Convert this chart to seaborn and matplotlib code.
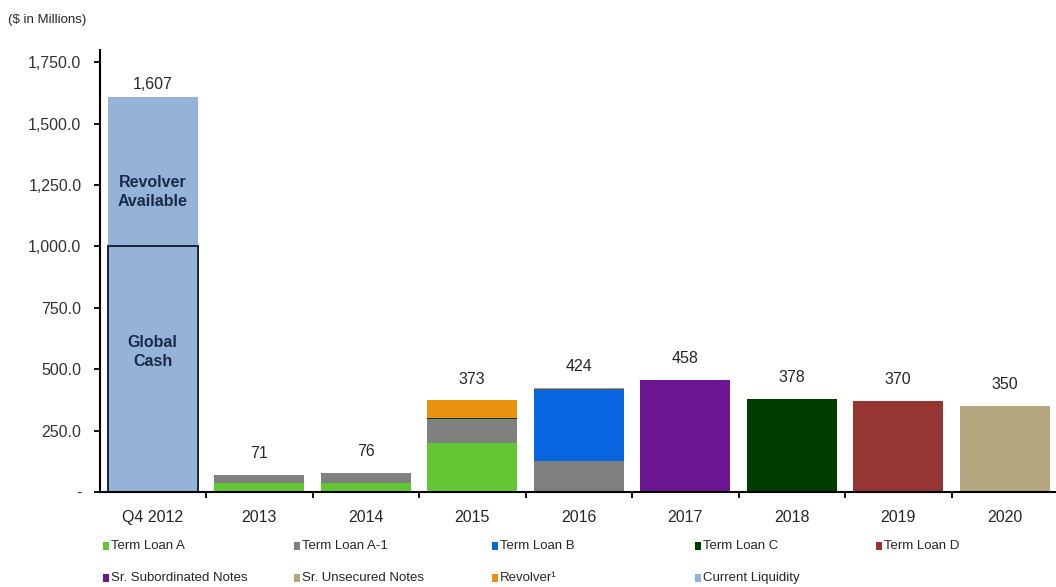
import matplotlib
matplotlib.use("Agg")
import matplotlib.pyplot as plt
from matplotlib.patches import Rectangle
from matplotlib.ticker import FuncFormatter, FixedLocator
import numpy as np
import pandas as pd
import seaborn as sns

# Debt maturity profile vs. current liquidity ($ in millions)
categories = ["Q4 2012", "2013", "2014", "2015", "2016", "2017", "2018", "2019", "2020"]

global_cash         = [1000, 0, 0, 0, 0, 0, 0, 0, 0]
revolver_available  = [607, 0, 0, 0, 0, 0, 0, 0, 0]
term_loan_a         = [0, 37, 37, 200, 0, 0, 0, 0, 0]
term_loan_a1        = [0, 34, 39, 97, 125, 0, 0, 0, 0]
term_loan_b         = [0, 0, 0, 0, 295, 0, 0, 0, 0]
term_loan_c         = [0, 0, 0, 3, 0, 0, 378, 0, 0]
term_loan_d         = [0, 0, 0, 0, 0, 0, 0, 370, 0]
sr_subordinated     = [0, 0, 0, 0, 0, 458, 0, 0, 0]
sr_unsecured        = [0, 0, 0, 0, 0, 0, 0, 0, 350]
revolver            = [0, 0, 0, 73, 4, 0, 0, 0, 0]

total_labels = ["1,607", "71", "76", "373", "424", "458", "378", "370", "350"]

colors = {
    "Term Loan A": "#62C732",
    "Term Loan A-1": "#808080",
    "Term Loan B": "#0866E0",
    "Term Loan C": "#003B00",
    "Term Loan D": "#953633",
    "Sr. Subordinated Notes": "#6C1590",
    "Sr. Unsecured Notes": "#B4A67E",
    "Revolver": "#E8920F",
    "Current Liquidity": "#95B3D7",
}

# stacking order, bottom to top
layers = [
    ("Global Cash", global_cash, colors["Current Liquidity"]),
    ("Revolver Available", revolver_available, colors["Current Liquidity"]),
    ("Term Loan A", term_loan_a, colors["Term Loan A"]),
    ("Term Loan A-1", term_loan_a1, colors["Term Loan A-1"]),
    ("Term Loan B", term_loan_b, colors["Term Loan B"]),
    ("Term Loan C", term_loan_c, colors["Term Loan C"]),
    ("Term Loan D", term_loan_d, colors["Term Loan D"]),
    ("Sr. Subordinated Notes", sr_subordinated, colors["Sr. Subordinated Notes"]),
    ("Sr. Unsecured Notes", sr_unsecured, colors["Sr. Unsecured Notes"]),
    ("Revolver", revolver, colors["Revolver"]),
]

sns.set_theme(style="white")
plt.rcParams["font.family"] = ["Liberation Sans", "DejaVu Sans"]
plt.rcParams["text.color"] = "#262626"

fig = plt.figure(figsize=(10.56, 5.87), dpi=100)
ax = fig.add_axes([99.5 / 1056, 95 / 587, 958.5 / 1056, 442 / 587])

stack = np.cumsum(np.array([vals for _, vals, _ in layers], dtype=float), axis=0)
bar_width = 0.845

# draw cumulative heights from the top layer down so each lower layer covers the one above
for i in range(len(layers) - 1, -1, -1):
    name, _, col = layers[i]
    df = pd.DataFrame({"category": categories, "value": stack[i]})
    if name == "Global Cash":
        sns.barplot(data=df, x="category", y="value", order=categories, color=col,
                    saturation=1, width=bar_width, edgecolor="#1B2440", linewidth=1.4,
                    ax=ax)
    else:
        sns.barplot(data=df, x="category", y="value", order=categories, color=col,
                    saturation=1, width=bar_width, linewidth=0, ax=ax)

# hide zero-height bars so their outlines don't show on the baseline
for p in ax.patches:
    if p.get_height() == 0:
        p.set_visible(False)

ax.set_xlim(-0.5, len(categories) - 0.5)
ax.set_ylim(0, 1800)
ax.set_xlabel("")
ax.set_ylabel("")

# totals above each bar
totals = stack[-1]
for i, (t, lab) in enumerate(zip(totals, total_labels)):
    off = 4 if i == 0 else 10
    ax.annotate(lab, xy=(i, t), xytext=(0, off), textcoords="offset points",
                ha="center", va="bottom", fontsize=11.5, color="#262626")

# labels inside the liquidity bar
ax.text(0, 1222, "Revolver\nAvailable", ha="center", va="center", fontsize=11.5,
        fontweight="bold", color="#1B2A48", linespacing=1.3)
ax.text(0, 570, "Global\nCash", ha="center", va="center", fontsize=11.5,
        fontweight="bold", color="#1B2A48", linespacing=1.3)

# axes styling
for side in ["top", "right"]:
    ax.spines[side].set_visible(False)
for side in ["left", "bottom"]:
    ax.spines[side].set_color("black")
    ax.spines[side].set_linewidth(1.5)

ax.yaxis.set_major_locator(FixedLocator(np.arange(0, 1751, 250)))
ax.yaxis.set_major_formatter(FuncFormatter(lambda v, _: "-" if v == 0 else f"{v:,.1f}"))
ax.tick_params(axis="y", which="major", direction="out", length=4, width=1.3,
               color="black", left=True, labelsize=11.5, labelcolor="#333333", pad=9)
ax.tick_params(axis="x", which="major", length=0, labelsize=11.5, labelcolor="#262626", pad=13)
ax.xaxis.set_minor_locator(FixedLocator(np.arange(0.5, len(categories) - 1, 1.0)))
ax.tick_params(axis="x", which="minor", direction="out", length=4, width=1.3,
               color="black", bottom=True)

fig.text(8 / 1056, 1 - 20 / 587, "($ in Millions)", ha="left", va="center",
         fontsize=9.5, color="#262626")

# legend: two rows of colour swatches with labels
legend_rows = [
    [("Term Loan A", 103), ("Term Loan A-1", 294), ("Term Loan B", 492),
     ("Term Loan C", 695), ("Term Loan D", 876)],
    [("Sr. Subordinated Notes", 103), ("Sr. Unsecured Notes", 294),
     ("Revolver", 492), ("Current Liquidity", 695)],
]
legend_text = {"Revolver": "Revolver\u00b9"}
for row_y, row in zip([546, 578], legend_rows):
    for name, x0 in row:
        fig.add_artist(Rectangle((x0 / 1056, 1 - (row_y + 4) / 587), 6 / 1056, 8 / 587,
                                 transform=fig.transFigure, facecolor=colors[name],
                                 edgecolor="none"))
        fig.text((x0 + 8) / 1056, 1 - row_y / 587, legend_text.get(name, name),
                 ha="left", va="center", fontsize=9.5, color="#262626")

fig.savefig("out.png", dpi=100)
